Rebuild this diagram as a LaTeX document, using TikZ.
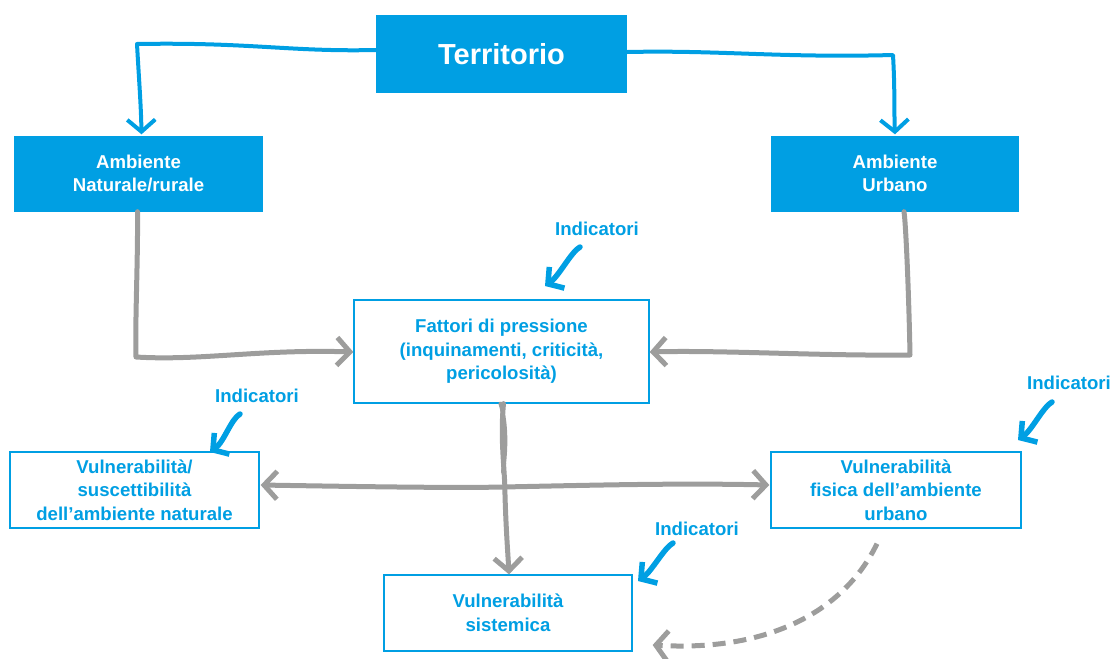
\documentclass[tikz,border=0pt]{standalone}
\usepackage{fontspec}
\setmainfont{Liberation Sans}
\usetikzlibrary{arrows.meta,calc}
\definecolor{cblue}{RGB}{0,159,227}
\definecolor{cgray}{RGB}{157,157,156}

\begin{document}
\begin{tikzpicture}[x=1pt,y=-1pt,
  txt/.style={font=\bfseries\fontsize{18.6}{23.5}\selectfont, align=center, inner sep=0pt},
  filledbox/.style={txt, fill=cblue, draw=none, text=white},
  linebox/.style={txt, draw=cblue, line width=1.3pt, fill=white, text=cblue},
  lbl/.style={txt, text=cblue},
  bluelink/.style={draw=cblue, line width=4pt, line cap=round, line join=round,
    -{Straight Barb[length=12pt,width=28pt,line width=4pt]}},
  graylink/.style={draw=cgray, line width=5pt, line cap=round, line join=round,
    -{Straight Barb[length=13pt,width=28pt,line width=5pt]}},
  grayboth/.style={graylink, {Straight Barb[length=13pt,width=28pt,line width=5pt]}-{Straight Barb[length=13pt,width=28pt,line width=5pt]}},
  dashlink/.style={draw=cgray, line width=5pt, dash pattern=on 13pt off 8pt,
    -{Straight Barb[length=12pt,width=30pt,line width=5pt]}},
  indarrow/.style={draw=cblue, line width=5.5pt, line cap=round,
    -{Straight Barb[length=11pt,width=26pt,line width=5.5pt]}}
]
\useasboundingbox (0,0) rectangle (1112,659);

% boxes
\node[filledbox, minimum width=251pt, minimum height=78pt,
      font=\bfseries\fontsize{29}{34}\selectfont] (terr) at (501.5,54) {Territorio};
\node[filledbox, minimum width=249pt, minimum height=76pt] (nat) at (138.5,173.5) {Ambiente\\Naturale/rurale};
\node[filledbox, minimum width=248pt, minimum height=76pt] (urb) at (895,173.5) {Ambiente\\Urbano};
\node[linebox, minimum width=295pt, minimum height=103pt] (fat) at (501.5,351.5)
  {Fattori di pressione\\(inquinamenti, criticità,\\pericolosità)};
\node[linebox, minimum width=249pt, minimum height=76pt] (vn) at (134.5,490)
  {Vulnerabilità/\\suscettibilità\\dell’ambiente naturale};
\node[linebox, minimum width=250pt, minimum height=76pt] (fis) at (896,490)
  {Vulnerabilità\\fisica dell’ambiente\\urbano};
\node[linebox, minimum width=248pt, minimum height=76pt] (sis) at (508,613)
  {Vulnerabilità\\sistemica};

% indicator labels
\node[lbl] (i1) at (597,229) {Indicatori};
\node[lbl] (i2) at (257,396) {Indicatori};
\node[lbl] (i3) at (1069,383) {Indicatori};
\node[lbl] (i4) at (697,529) {Indicatori};

% territory to the two environments
\draw[bluelink] ($(terr.west)+(0,-4)$) .. controls (290,52) and (250,42) .. (137,44)
  .. controls (139,80) and (141,105) .. ($(nat.north)+(3,-1)$);
\draw[bluelink] ($(terr.east)+(0,-2)$) .. controls (720,50) and (780,58) .. (893,55)
  .. controls (895,90) and (894,110) .. ($(urb.north)+(0,-1)$);

% environments to pressure factors
\draw[graylink] ($(nat.south)+(-1,0)$) .. controls (138,260) and (135,320) .. (136,357)
  .. controls (200,361) and (260,349) .. ($(fat.west)+(0,0.5)$);
\draw[graylink] ($(urb.south)+(9,0)$) .. controls (906,225) and (909,300) .. (910,355)
  .. controls (820,356) and (720,350) .. ($(fat.east)+(0,0.5)$);

% pressure factors to systemic vulnerability
\draw[draw=cgray, line width=4pt, line cap=round]
  ($(fat.south)+(-1,0)$) .. controls (507,425) and (506,450) .. (503,472);
\draw[graylink] ($(fat.south)+(2,0)$) .. controls (500,440) and (505,470) .. (505,495)
  .. controls (506,530) and (508,555) .. ($(sis.north)+(1,0)$);

% link between the two vulnerabilities
\draw[grayboth] ($(vn.east)+(1,-5)$) .. controls (380,487) and (460,488) .. (503,487)
  .. controls (600,485) and (680,483) .. ($(fis.west)+(-1,-5)$);

% dashed feedback from urban vulnerability
\draw[dashlink] ($(fis.south)+(-19,15)$) .. controls (845,610) and (770,652) .. ($(sis.east)+(20,32)$);

% indicator arrows
\coordinate (s1) at (580,247); \coordinate (e1) at (545,286);
\coordinate (s2) at (240,414); \coordinate (e2) at (210,452);
\coordinate (s3) at (1052,402); \coordinate (e3) at (1018,440);
\coordinate (s4) at (673,543); \coordinate (e4) at (638,581);
\foreach \k in {1,2,3,4}{
  \draw[indarrow] (s\k) .. controls +(-9,5) and +(14,-10) .. (e\k);
}
\end{tikzpicture}
\end{document}
